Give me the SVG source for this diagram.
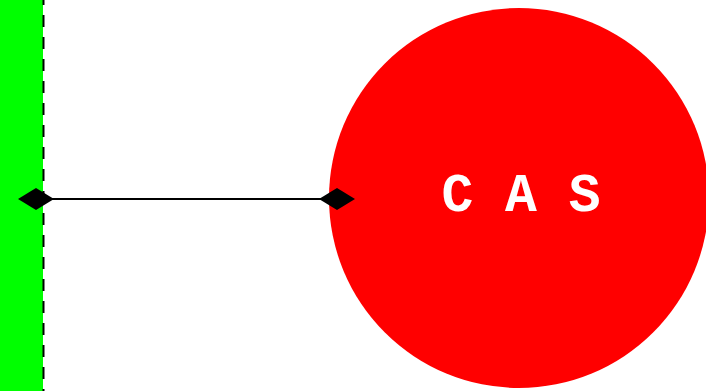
<svg xmlns="http://www.w3.org/2000/svg" width="706" height="391" viewBox="0 0 706 391">
<style>
.conn{stroke:#000;stroke-width:2;fill:none}
.lbl{font-family:"Liberation Mono","Courier New",monospace;font-weight:bold;fill:#fff}
</style>
<defs>
<marker id="dia" viewBox="0 0 36 22" refX="18" refY="11" markerWidth="36" markerHeight="22" markerUnits="userSpaceOnUse" orient="auto">
<path d="M0,11 L18,0 L36,11 L18,22 Z" fill="#000"/>
</marker>
</defs>
<rect width="706" height="391" fill="#fff"/>
<g id="wall">
<rect x="0" y="0" width="43" height="391" fill="#00ff00"/>
<line x1="43.5" y1="0" x2="43.5" y2="391" stroke="#000" stroke-width="2" stroke-dasharray="12,10" stroke-dashoffset="7"/>
</g>
<g id="cas">
<circle cx="519" cy="198" r="190" fill="#ff0000"/>
<text class="lbl" x="521" y="211" font-size="53" text-anchor="middle">C A S</text>
</g>
<g id="connectors">
<line class="conn" x1="36" y1="199" x2="337" y2="199" marker-start="url(#dia)" marker-end="url(#dia)"/>
</g>
</svg>
